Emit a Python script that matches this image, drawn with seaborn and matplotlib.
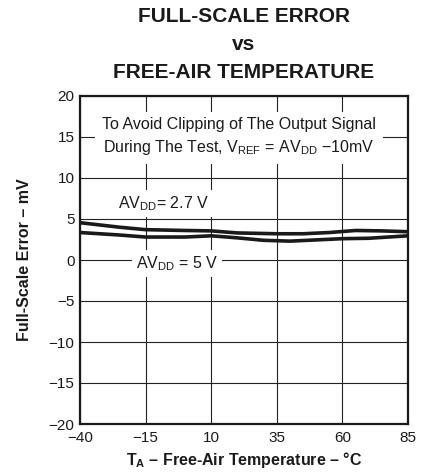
import numpy as np
import pandas as pd
import seaborn as sns
import matplotlib.pyplot as plt

# datos
temp_27 = [-40, -25, -15, 0, 10, 20, 35, 45, 55, 65, 75, 85]
err_27 = [4.55, 4.0, 3.7, 3.6, 3.55, 3.3, 3.2, 3.2, 3.35, 3.6, 3.55, 3.45]
temp_5 = [-40, -25, -15, 0, 10, 20, 30, 40, 50, 60, 70, 85]
err_5 = [3.35, 3.05, 2.8, 2.8, 2.95, 2.7, 2.4, 2.3, 2.45, 2.6, 2.65, 2.95]
xticks = [-40, -15, 10, 35, 60, 85]
yticks = [-20, -15, -10, -5, 0, 5, 10, 15, 20]

df = pd.concat([
    pd.DataFrame({"T": temp_27, "err": err_27, "serie": "2.7"}),
    pd.DataFrame({"T": temp_5, "err": err_5, "serie": "5"}),
])

sns.set_style("white")
plt.rcParams['font.family'] = ['Liberation Sans', 'DejaVu Sans']
plt.rcParams['mathtext.fontset'] = 'custom'
plt.rcParams['mathtext.rm'] = 'Liberation Sans'
plt.rcParams['mathtext.it'] = 'Liberation Sans'
plt.rcParams['mathtext.bf'] = 'Liberation Sans:bold'

fig = plt.figure(figsize=(4.22, 4.72), dpi=100)
ax = fig.add_axes([80 / 422, 48 / 472, 328 / 422, 328 / 472])

sns.lineplot(data=df, x="T", y="err", units="serie", estimator=None,
             color="#1a1a1a", linewidth=2.6, ax=ax, zorder=4)

ax.set_xlim(-40, 85)
ax.set_ylim(-20, 20)
ax.set_xticks(xticks)
ax.set_yticks(yticks)
ax.set_xticklabels([str(t).replace("-", "\u2212") for t in xticks], fontsize=11)
ax.set_yticklabels([str(t).replace("-", "\u2212") for t in yticks], fontsize=11)
ax.tick_params(axis="x", length=0, pad=5, colors="#1a1a1a")
ax.tick_params(axis="y", length=0, pad=4, colors="#1a1a1a")
ax.grid(True, color="#222222", linewidth=0.8)
for s in ax.spines.values():
    s.set_linewidth(1.6)
    s.set_color("#1a1a1a")

ax.set_xlabel("")
ax.set_ylabel("Full-Scale Error – mV", fontsize=11.5, fontweight="bold",
              labelpad=12, color="#1a1a1a")
# etiqueta del eje x como texto de la figura para que no se corte
fig.text(244 / 422, 7 / 472, r"T$_{\mathbf{A}}$ – Free-Air Temperature – °C",
         ha="center", va="baseline", fontsize=11.5, fontweight="bold",
         color="#1a1a1a")

# titulo en tres lineas
fig.text(0.578, 1 - 17 / 472, "FULL-SCALE ERROR", ha="center", va="center",
         fontsize=15, fontweight="bold", color="#1a1a1a")
fig.text(0.578, 1 - 44 / 472, "vs", ha="center", va="center",
         fontsize=15, fontweight="bold", color="#1a1a1a")
fig.text(0.578, 1 - 72 / 472, "FREE-AIR TEMPERATURE", ha="center", va="center",
         fontsize=15, fontweight="bold", color="#1a1a1a")

caja = dict(facecolor="white", edgecolor="none", pad=3)
ax.text(20.5, 15, "To Avoid Clipping of The Output Signal\n"
        r"During The Test, V$_{\rm REF}$ = AV$_{\rm DD}$ −10mV",
        ha="center", va="center", fontsize=11.5, linespacing=1.4,
        color="#1a1a1a",
        bbox=dict(facecolor="white", edgecolor="none", pad=5), zorder=3)
ax.text(-8, 6.9, r"AV$_{\rm DD}$= 2.7 V", ha="center", va="center",
        fontsize=11.5, color="#1a1a1a", bbox=caja, zorder=3)
ax.text(-3, -0.4, r"AV$_{\rm DD}$ = 5 V", ha="center", va="center",
        fontsize=11.5, color="#1a1a1a", bbox=caja, zorder=3)

plt.savefig("out.png", dpi=100)
